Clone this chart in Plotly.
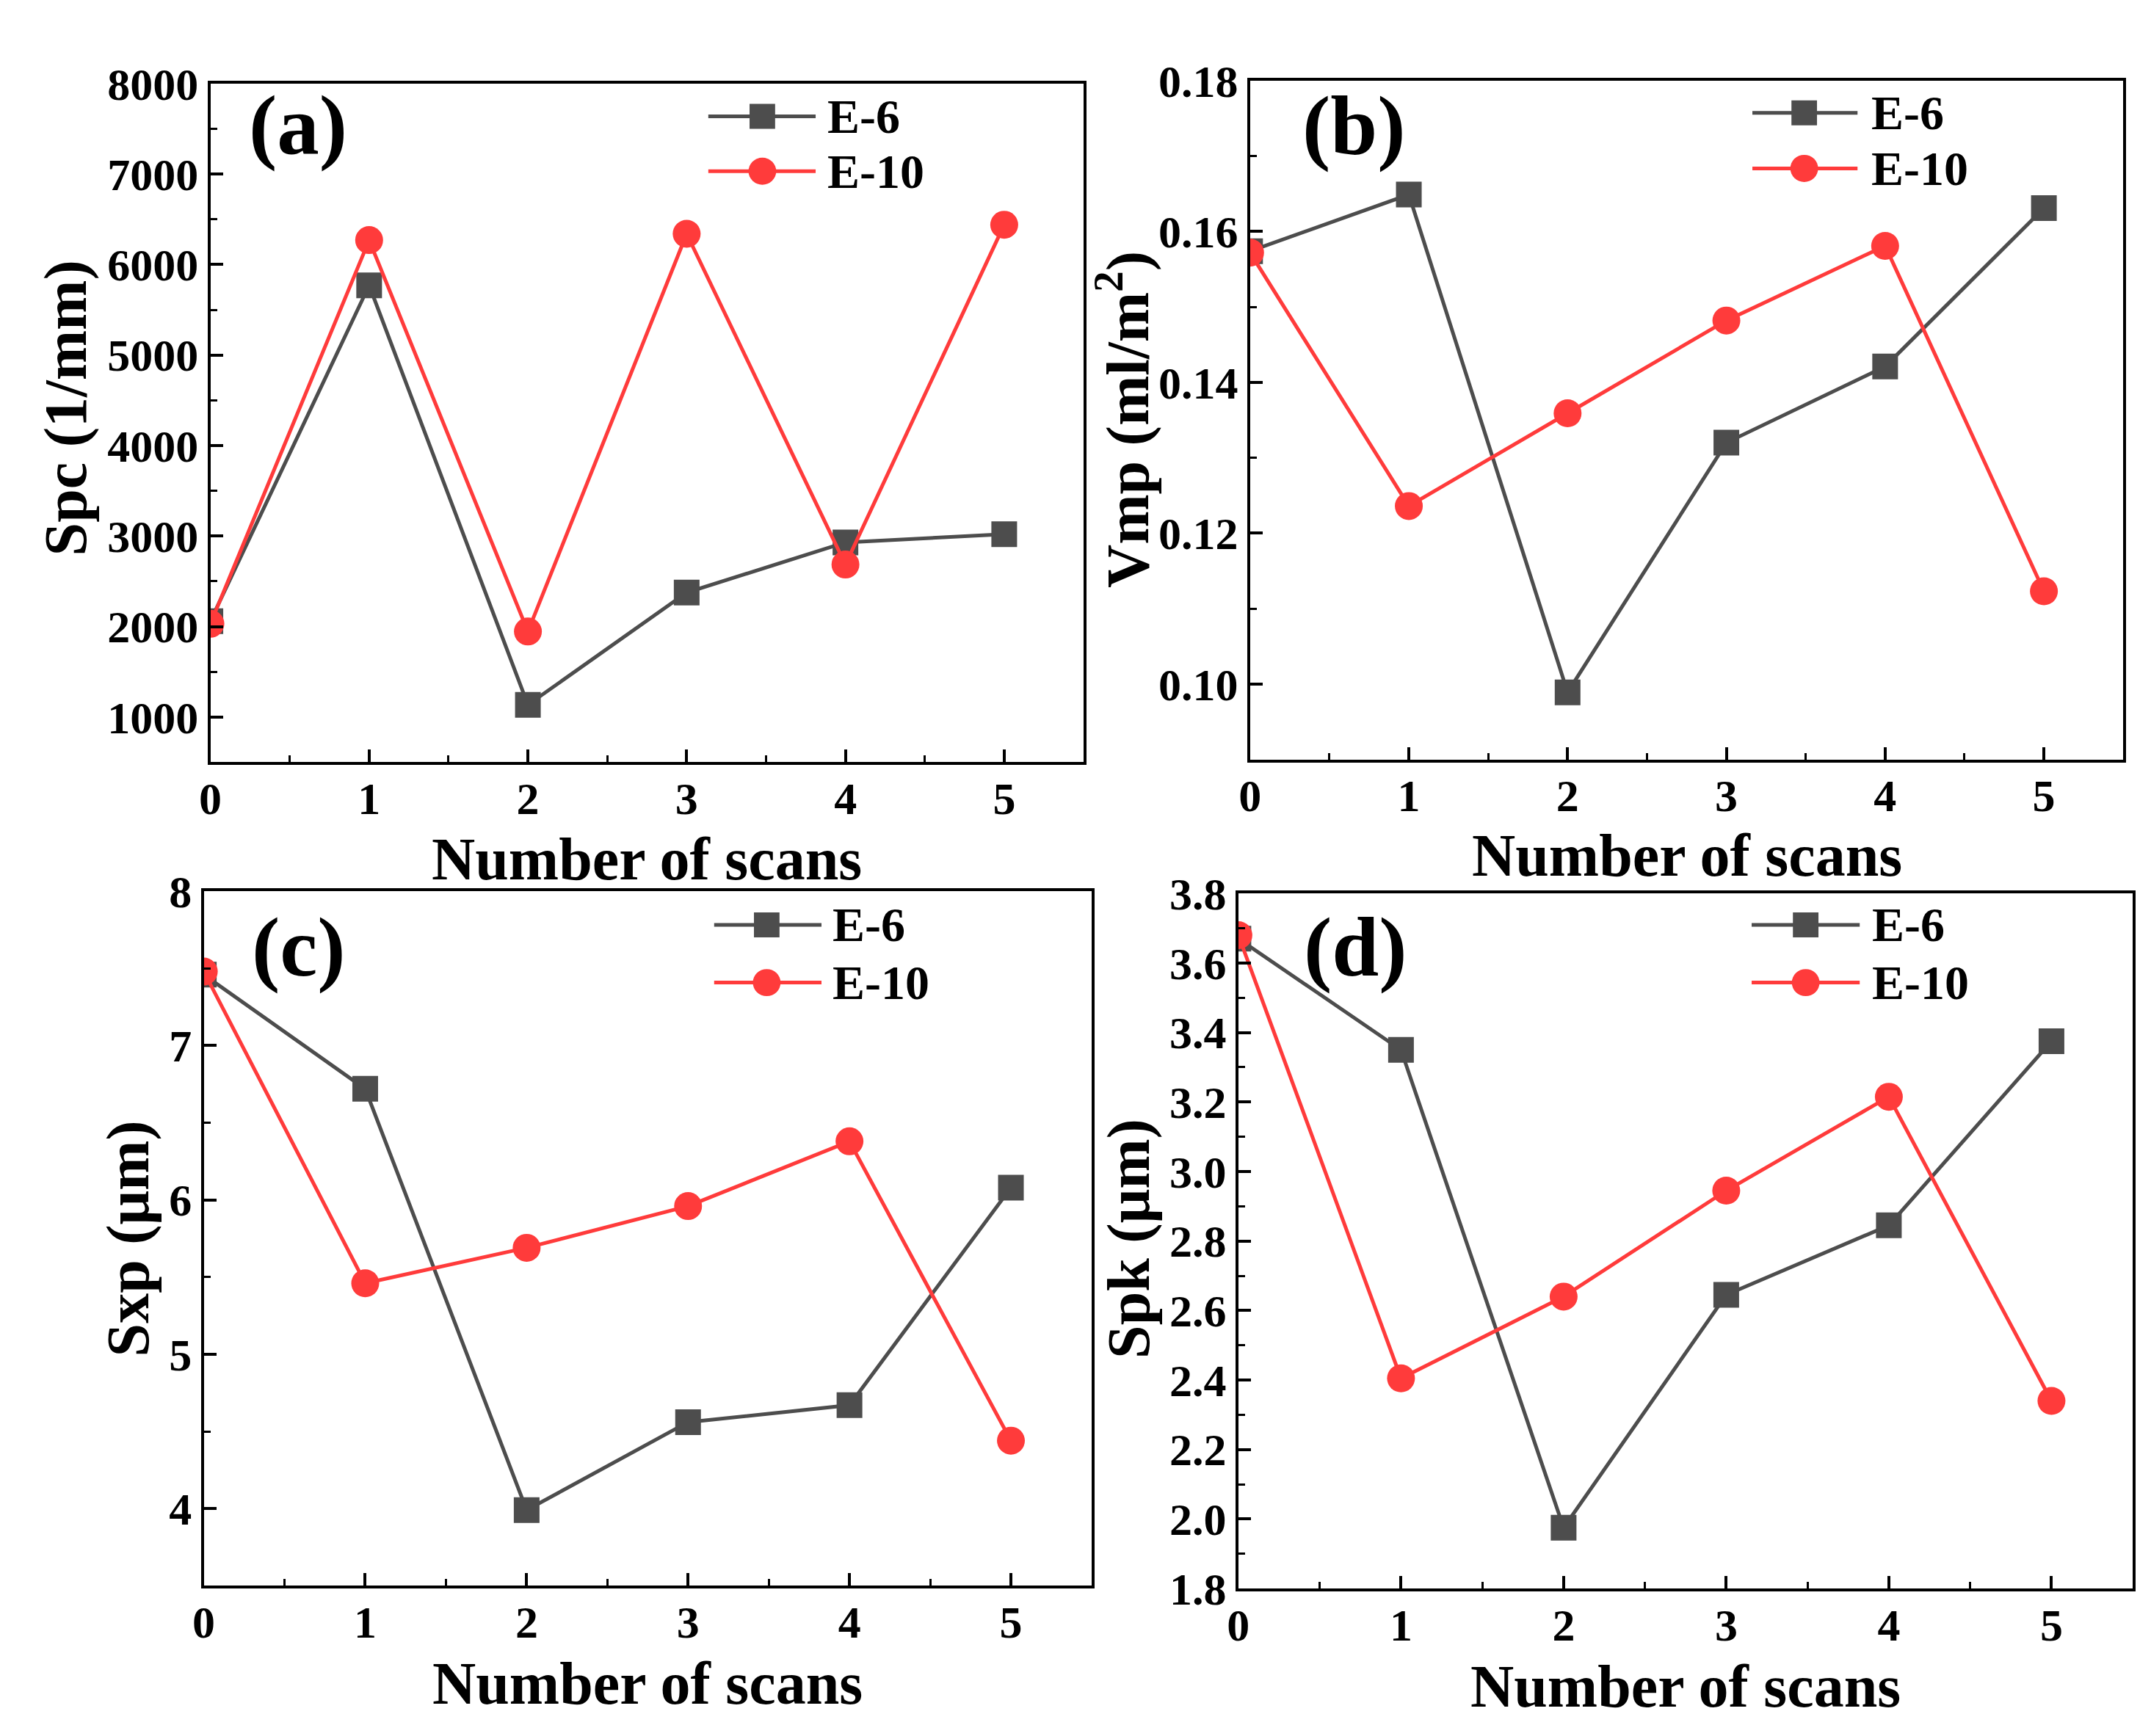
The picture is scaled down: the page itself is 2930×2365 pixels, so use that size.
import plotly.graph_objects as go

# ---------------- data ----------------
scans = [0, 1, 2, 3, 4, 5]
series_names = ["E-6", "E-10"]

spc_e6 = [2060, 5770, 1135, 2375, 2930, 3020]
spc_e10 = [2030, 6270, 1945, 6340, 2685, 6440]

vmp_e6 = [0.1574, 0.1649, 0.0989, 0.1320, 0.1421, 0.1631]
vmp_e10 = [0.1572, 0.1236, 0.1359, 0.1482, 0.1581, 0.1123]

sxp_e6 = [7.46, 6.72, 3.99, 4.56, 4.67, 6.08]
sxp_e10 = [7.48, 5.46, 5.69, 5.96, 6.38, 4.44]

spk_e6 = [3.67, 3.35, 1.975, 2.645, 2.845, 3.375]
spk_e10 = [3.68, 2.405, 2.64, 2.945, 3.215, 2.34]

y_titles = ["Spc (1/mm)", "Vmp (ml/m<sup>2</sup>)", "Sxp (μm)", "Spk (μm)"]
x_title = "Number of scans"
panel_labels = ["(a)", "(b)", "(c)", "(d)"]

# ---------------- layout constants ----------------
W, H = 2930, 2365
FONT = "Liberation Serif"
GRAY = "#4d4d4d"
RED = "#ff3b3b"

# plot boxes in pixels: left, right, top, bottom
boxes = [(264, 1460, 75, 1027), (1688, 2884, 71, 1023),
         (255, 1471, 1208, 2182), (1672, 2897, 1211, 2186)]
yranges = [[500, 8000], [0.09, 0.18], [3.5, 8], [1.8, 3.8]]
ydticks = [1000, 0.02, 1, 0.2]
yminor = [500, 0.01, 0.5, 0.1]
yfmts = ["d", ".2f", "d", ".1f"]

ytitle_pos = [(66, 530), (1514, 546), (151, 1695), (1522, 1695)]
xtitle_y = [1163, 1158, 2319, 2323]
label_pos = [(384, 133), (1830, 134), (385, 1286), (1833, 1286)]
# legend: line x0, x1, marker centre, text x, row1 y, row2 y
legend_geo = [(946, 1093, 1020, 1107, 121, 198),
              (2376, 2520, 2447, 2537, 116, 194),
              (954, 1101, 1026, 1114, 1255, 1336),
              (2375, 2523, 2449, 2538, 1255, 1336)]


def px(x):
    return x / W


def py(y):
    return 1 - y / H


data = [(spc_e6, spc_e10), (vmp_e6, vmp_e10), (sxp_e6, sxp_e10), (spk_e6, spk_e10)]

fig = go.Figure()
layout = dict(width=W, height=H, margin=dict(l=0, r=0, t=0, b=0),
              paper_bgcolor="white", plot_bgcolor="white", showlegend=False)

tickfont = dict(family=FONT, size=62, color="black", weight="bold")
minor_common = dict(ticks="inside", ticklen=9, tickwidth=3, tickcolor="black", showgrid=False)
axis_common = dict(showline=True, linecolor="black", linewidth=4, mirror=True,
                   ticks="inside", ticklen=17, tickwidth=3.5, tickcolor="black",
                   showgrid=False, zeroline=False, tickfont=tickfont)

annotations = []
shapes = []

for i, (e6, e10) in enumerate(data):
    n = i + 1
    sfx = "" if n == 1 else str(n)
    xref, yref = "x" + sfx, "y" + sfx
    l, r, t, b = boxes[i]
    layout["xaxis" + sfx] = dict(axis_common, domain=[px(l), px(r)], anchor=yref,
                                 range=[0, 5.5], tick0=0, dtick=1, ticklabelstandoff=-8,
                                 minor=dict(minor_common, dtick=0.5))
    layout["yaxis" + sfx] = dict(axis_common, domain=[py(b), py(t)], anchor=xref,
                                 range=yranges[i], dtick=ydticks[i],
                                 tickformat=yfmts[i],
                                 minor=dict(minor_common, dtick=yminor[i]))

    fig.add_trace(go.Scatter(x=scans, y=e6, name=series_names[0], mode="lines+markers",
                             xaxis=xref, yaxis=yref,
                             line=dict(color=GRAY, width=5),
                             marker=dict(symbol="square", size=35, color=GRAY)))
    fig.add_trace(go.Scatter(x=scans, y=e10, name=series_names[1], mode="lines+markers",
                             xaxis=xref, yaxis=yref,
                             line=dict(color=RED, width=5),
                             marker=dict(symbol="circle", size=38, color=RED)))

    # axis titles
    tx, ty = ytitle_pos[i]
    annotations.append(dict(text=y_titles[i], x=px(tx), y=py(ty), xref="paper", yref="paper",
                            xanchor="center", yanchor="middle", textangle=-90, showarrow=False,
                            font=dict(family=FONT, size=82, color="black", weight="bold")))
    annotations.append(dict(text=x_title, x=px((l + r) / 2), y=py(xtitle_y[i]),
                            xref="paper", yref="paper", xanchor="center", yanchor="middle",
                            showarrow=False,
                            font=dict(family=FONT, size=82, color="black", weight="bold")))
    # panel label
    lx, ly = label_pos[i]
    annotations.append(dict(text=panel_labels[i], x=px(lx), y=py(ly), xref="paper", yref="paper",
                            xanchor="center", yanchor="middle", showarrow=False,
                            font=dict(family=FONT, size=115, color="black", weight="bold")))
    # legend
    x0, x1, xc, xt, r1, r2 = legend_geo[i]
    for (yy, col, sym, sz, name) in [(r1, GRAY, "square", 35, series_names[0]),
                                     (r2, RED, "circle", 38, series_names[1])]:
        shapes.append(dict(type="line", xref="paper", yref="paper",
                           x0=px(x0), x1=px(x1), y0=py(yy), y1=py(yy),
                           line=dict(color=col, width=5)))
        h = sz / 2
        shapes.append(dict(type="rect" if sym == "square" else "circle",
                           xref="paper", yref="paper",
                           x0=px(xc - h), x1=px(xc + h), y0=py(yy + h), y1=py(yy - h),
                           fillcolor=col, line=dict(width=0)))
        annotations.append(dict(text=name, x=px(xt), y=py(yy), xref="paper", yref="paper",
                                xanchor="left", yanchor="middle", showarrow=False,
                                font=dict(family=FONT, size=66, color="black", weight="bold")))

layout["annotations"] = annotations
layout["shapes"] = shapes
fig.update_layout(**layout)
fig.write_html("out.html")
